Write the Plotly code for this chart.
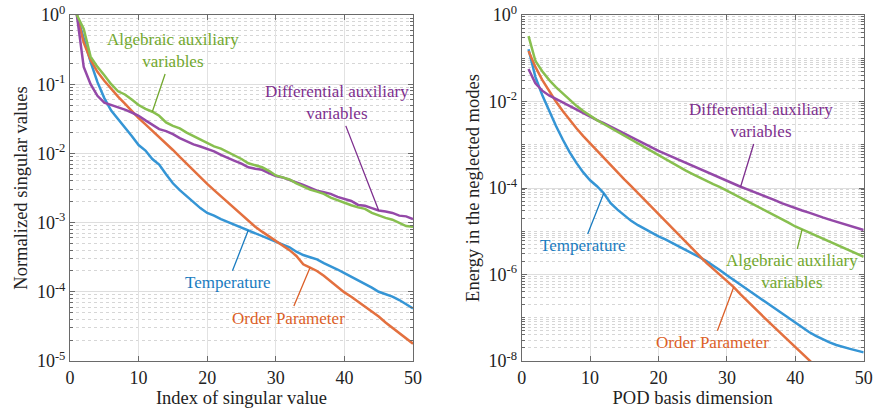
import math
import plotly.graph_objects as go

# ---------------- data ----------------
index = list(range(1, 51))

# Left panel: normalized singular values
sv_temperature = [1.0, 0.45, 0.21, 0.107, 0.063, 0.0417, 0.0316, 0.0234, 0.0178, 0.0132,
                  0.011, 0.0083, 0.0069, 0.0050, 0.0037, 0.00295, 0.0024, 0.0020, 0.00162, 0.00138,
                  0.00126, 0.00112, 0.00102, 9.3e-4, 8.5e-4, 7.8e-4, 7.1e-4, 6.5e-4, 5.9e-4, 5.4e-4,
                  4.9e-4, 4.4e-4, 3.8e-4, 3.4e-4, 3.16e-4, 2.95e-4, 2.6e-4, 2.35e-4, 2.1e-4, 1.86e-4,
                  1.66e-4, 1.48e-4, 1.32e-4, 1.15e-4, 1.0e-4, 9.3e-5, 8.5e-5, 7.6e-5, 6.6e-5, 5.75e-5]
sv_order = [1.0, 0.398, 0.224, 0.151, 0.112, 0.085, 0.066, 0.0525, 0.0407, 0.0324,
            0.0263, 0.0214, 0.0174, 0.0141, 0.0112, 0.0089, 0.0071, 0.0056, 0.00447, 0.00363,
            0.00295, 0.0024, 0.00195, 0.00158, 0.00129, 0.00105, 8.7e-4, 7.4e-4, 6.3e-4, 5.4e-4,
            4.7e-4, 4.0e-4, 3.3e-4, 2.5e-4, 2.24e-4, 2.0e-4, 1.7e-4, 1.41e-4, 1.17e-4, 9.8e-5,
            8.5e-5, 7.2e-5, 6.2e-5, 5.2e-5, 4.4e-5, 3.6e-5, 3.0e-5, 2.5e-5, 2.1e-5, 1.78e-5]
sv_differential = [1.0, 0.178, 0.1, 0.068, 0.054, 0.05, 0.047, 0.043, 0.039, 0.035,
                   0.030, 0.026, 0.0224, 0.021, 0.019, 0.0166, 0.0148, 0.0135, 0.0126, 0.0117,
                   0.0107, 0.0095, 0.0085, 0.0078, 0.0071, 0.0063, 0.0060, 0.0058, 0.0052, 0.0047,
                   0.0045, 0.0041, 0.0038, 0.0035, 0.0032, 0.0029, 0.00275, 0.0026, 0.00235, 0.0022,
                   0.00205, 0.0018, 0.00175, 0.00162, 0.0015, 0.00145, 0.00138, 0.00126, 0.00123, 0.00112]
sv_algebraic = [1.0, 0.63, 0.25, 0.178, 0.135, 0.1, 0.079, 0.071, 0.06, 0.05,
                0.044, 0.04, 0.035, 0.028, 0.025, 0.023, 0.02, 0.0178, 0.0158, 0.0141,
                0.0126, 0.0117, 0.0105, 0.0093, 0.0083, 0.0072, 0.0068, 0.0063, 0.0056, 0.0048,
                0.0045, 0.0042, 0.0037, 0.0033, 0.0030, 0.0028, 0.0026, 0.0023, 0.0021, 0.00195,
                0.00178, 0.00166, 0.00158, 0.00138, 0.00126, 0.00117, 0.0011, 0.0010, 8.9e-4, 8.7e-4]

# Right panel: energy in the neglected modes
en_temperature = [0.162, 0.0372, 0.0141, 6.03e-3, 2.75e-3, 1.32e-3, 6.76e-4, 3.80e-4, 2.29e-4, 1.51e-4,
                  1.10e-4, 7.59e-5, 4.47e-5, 3.16e-5, 2.29e-5, 1.74e-5, 1.38e-5, 1.12e-5, 9.12e-6, 7.59e-6,
                  6.46e-6, 5.37e-6, 4.47e-6, 3.72e-6, 3.09e-6, 2.51e-6, 2.04e-6, 1.62e-6, 1.26e-6, 9.55e-7,
                  7.41e-7, 5.75e-7, 4.47e-7, 3.47e-7, 2.69e-7, 2.09e-7, 1.62e-7, 1.26e-7, 9.77e-8, 7.59e-8,
                  5.89e-8, 4.68e-8, 3.80e-8, 3.16e-8, 2.69e-8, 2.34e-8, 2.09e-8, 1.91e-8, 1.74e-8, 1.58e-8]
en_order = [0.148, 0.063, 0.0316, 0.0174, 0.01, 6.03e-3, 3.72e-3, 2.40e-3, 1.58e-3, 1.07e-3,
            7.41e-4, 5.01e-4, 3.39e-4, 2.29e-4, 1.58e-4, 1.10e-4, 7.59e-5, 5.37e-5, 3.72e-5, 2.57e-5,
            1.74e-5, 1.20e-5, 8.13e-6, 5.62e-6, 3.89e-6, 2.63e-6, 1.86e-6, 1.35e-6, 9.77e-7, 7.08e-7,
            5.13e-7, 3.47e-7, 2.40e-7, 1.70e-7, 1.17e-7, 8.32e-8, 5.89e-8, 4.17e-8, 3.02e-8, 2.14e-8,
            1.51e-8, 1.07e-8, 7.59e-9, 5.37e-9, 3.80e-9, 2.69e-9, 1.91e-9, 1.35e-9, 9.55e-10, 6.76e-10]
en_differential = [0.0562, 0.0263, 0.0178, 0.0138, 0.0115, 9.55e-3, 7.94e-3, 6.46e-3, 5.25e-3, 4.37e-3,
                   3.72e-3, 3.16e-3, 2.63e-3, 2.19e-3, 1.82e-3, 1.51e-3, 1.26e-3, 1.02e-3, 8.51e-4, 7.24e-4,
                   6.17e-4, 5.25e-4, 4.47e-4, 3.80e-4, 3.24e-4, 2.75e-4, 2.34e-4, 2.0e-4, 1.70e-4, 1.45e-4,
                   1.23e-4, 1.07e-4, 9.33e-5, 8.13e-5, 6.92e-5, 6.03e-5, 5.25e-5, 4.47e-5, 3.89e-5, 3.39e-5,
                   3.02e-5, 2.69e-5, 2.34e-5, 2.09e-5, 1.86e-5, 1.66e-5, 1.48e-5, 1.32e-5, 1.17e-5, 1.07e-5]
en_algebraic = [0.324, 0.0871, 0.0501, 0.0316, 0.0214, 0.0151, 0.011, 7.94e-3, 6.03e-3, 4.68e-3,
                3.72e-3, 3.02e-3, 2.45e-3, 2.0e-3, 1.62e-3, 1.32e-3, 1.07e-3, 8.51e-4, 6.92e-4, 5.62e-4,
                4.57e-4, 3.72e-4, 3.02e-4, 2.51e-4, 2.09e-4, 1.74e-4, 1.45e-4, 1.23e-4, 1.05e-4, 8.71e-5,
                7.24e-5, 6.03e-5, 5.01e-5, 4.17e-5, 3.39e-5, 2.82e-5, 2.29e-5, 1.91e-5, 1.58e-5, 1.29e-5,
                1.10e-5, 9.33e-6, 7.94e-6, 6.76e-6, 5.75e-6, 4.90e-6, 4.17e-6, 3.55e-6, 3.02e-6, 2.57e-6]

x_ticks = [0, 10, 20, 30, 40, 50]
left_y_ticks = [1, 1e-1, 1e-2, 1e-3, 1e-4, 1e-5]
left_y_labels = ["10<sup>0</sup>", "10<sup>-1</sup>", "10<sup>-2</sup>", "10<sup>-3</sup>",
                 "10<sup>-4</sup>", "10<sup>-5</sup>"]
right_y_ticks = [1, 1e-2, 1e-4, 1e-6, 1e-8]
right_y_labels = ["10<sup>0</sup>", "10<sup>-2</sup>", "10<sup>-4</sup>", "10<sup>-6</sup>",
                  "10<sup>-8</sup>"]

# ---------------- style ----------------
FONT = "Liberation Serif, Times New Roman, Times, serif"
C_LINE = {"T": "#3595d5", "O": "#e3703f", "D": "#9449a8", "A": "#88bf4f"}
C_TEXT = {"T": "#1a7cc0", "O": "#dc5f28", "D": "#7e2f8e", "A": "#72a82e"}
AX_COL = "#6a6a6a"

fig = go.Figure()

series_left = [("T", sv_temperature), ("O", sv_order), ("D", sv_differential), ("A", sv_algebraic)]
series_right = [("T", en_temperature), ("O", en_order), ("D", en_differential), ("A", en_algebraic)]
for key, vals in series_left:
    fig.add_trace(go.Scatter(x=index, y=vals, mode="lines", line=dict(color=C_LINE[key], width=2.5),
                             xaxis="x", yaxis="y", showlegend=False, hoverinfo="skip"))
for key, vals in series_right:
    fig.add_trace(go.Scatter(x=index, y=vals, mode="lines", line=dict(color=C_LINE[key], width=2.5),
                             xaxis="x2", yaxis="y2", showlegend=False, hoverinfo="skip"))


def minor_vals(lo, hi, skip):
    out = []
    for e in range(lo, hi):
        for k in range(1, 10):
            v = k * 10.0 ** e
            if not any(abs(v - s) / s < 1e-6 for s in skip):
                out.append(v)
    return out


def xax(domain, title):
    return dict(domain=domain, range=[0, 50], tickvals=x_ticks, ticks="inside", ticklen=5,
                tickcolor=AX_COL, showline=True, linecolor=AX_COL, linewidth=1, mirror="ticks",
                showgrid=True, gridcolor="#e2e2e2", gridwidth=1, zeroline=False,
                tickfont=dict(family=FONT, size=18, color="#222"),
                title=dict(text=title, font=dict(family=FONT, size=18.5, color="#222"), standoff=4),
                automargin=False)


def yax(domain, rng, tv, tt, title, anchor, skip):
    return dict(domain=domain, type="log", range=rng, tickvals=tv, ticktext=tt, anchor=anchor,
                ticks="inside", ticklen=5, tickcolor=AX_COL, showline=True, linecolor=AX_COL,
                linewidth=1, mirror="ticks", showgrid=True, gridcolor="#dedede", gridwidth=1,
                zeroline=False, tickfont=dict(family=FONT, size=18, color="#222"),
                title=dict(text=title, font=dict(family=FONT, size=18.5, color="#222"), standoff=4),
                minor=dict(tickvals=minor_vals(rng[0], rng[1], skip), showgrid=True, griddash="dot",
                           gridcolor="#d6d6d6", gridwidth=1, ticks="inside", ticklen=3,
                           tickcolor=AX_COL),
                automargin=False)


ydom = [53 / 414, 399 / 414]
fig.update_layout(
    width=875, height=414, margin=dict(l=0, r=0, t=0, b=0),
    paper_bgcolor="white", plot_bgcolor="white",
    font=dict(family=FONT),
    xaxis=xax([70 / 875, 413 / 875], "Index of singular value") | dict(anchor="y"),
    xaxis2=xax([521.7 / 875, 863.7 / 875], "POD basis dimension") | dict(anchor="y2"),
    yaxis=yax(ydom, [-5, 0], left_y_ticks, left_y_labels, "Normalized singular values", "x",
              left_y_ticks),
    yaxis2=yax(ydom, [-8, 0], right_y_ticks, right_y_labels, "Energy in the neglected modes", "x2",
               right_y_ticks),
)


def label(text, key, xr, yr, xt, yt, xp, series):
    # text centred at (xt, 10**yt); leader line to the curve at index xp
    fig.add_annotation(x=xp, y=math.log10(series[xp - 1]), xref=xr, yref=yr,
                       ax=xt, ay=yt, axref=xr, ayref=yr, text=text, showarrow=True,
                       arrowhead=0, arrowwidth=1.3, arrowcolor=C_TEXT[key], standoff=0,
                       font=dict(family=FONT, size=17, color=C_TEXT[key]), align="center",
                       borderpad=2)


label("Algebraic auxiliary<br>variables", "A", "x", "y", 15.0, -0.52, 12, sv_algebraic)
label("Differential auxiliary<br>variables", "D", "x", "y", 38.9, -1.27, 45, sv_differential)
label("Temperature", "T", "x", "y", 23.0, -3.87, 26, sv_temperature)
label("Order Parameter", "O", "x", "y", 31.9, -4.38, 35, sv_order)

label("Differential auxiliary<br>variables", "D", "x2", "y2", 34.95, -2.45, 32, en_differential)
label("Algebraic auxiliary<br>variables", "A", "x2", "y2", 39.45, -5.94, 41, en_algebraic)
label("Temperature", "T", "x2", "y2", 8.95, -5.34, 12, en_temperature)
label("Order Parameter", "O", "x2", "y2", 27.95, -7.58, 31, en_order)

fig.write_html("out.html", config={"displayModeBar": False},
               post_script="document.body.style.margin='0';")
